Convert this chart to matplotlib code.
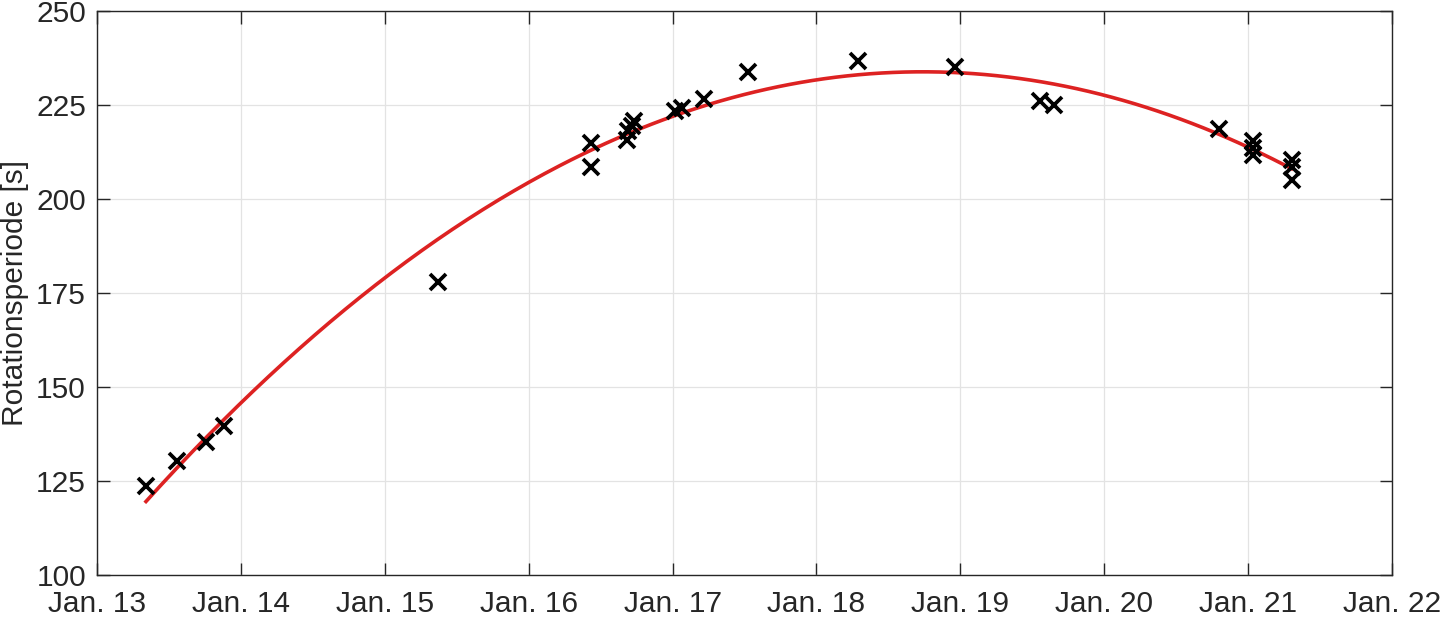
import matplotlib
matplotlib.use("Agg")
import matplotlib.pyplot as plt
import numpy as np

plt.rcParams['font.family'] = ['Liberation Sans', 'DejaVu Sans']

# Measurement times (day of January) and rotation periods [s]
days = [13.34, 13.556, 13.757, 13.883, 15.37, 16.433, 16.433,
        16.68, 16.69, 16.72, 16.73, 17.017, 17.066, 17.218, 17.524,
        18.288, 18.962, 19.553, 19.65, 20.797,
        21.035, 21.035, 21.035, 21.302, 21.302, 21.302]
periods = [123.8, 130.2, 135.5, 139.7, 177.9, 215.0, 208.4,
           215.7, 218.0, 219.3, 220.8, 223.3, 224.3, 226.7, 233.8,
           236.7, 235.2, 226.1, 225.1, 218.5,
           215.5, 213.5, 211.8, 210.5, 208.6, 205.0]

xtick_vals = [13, 14, 15, 16, 17, 18, 19, 20, 21, 22]
xtick_labels = ['Jan. 13', 'Jan. 14', 'Jan. 15', 'Jan. 16', 'Jan. 17',
                'Jan. 18', 'Jan. 19', 'Jan. 20', 'Jan. 21', 'Jan. 22']
ytick_vals = [100, 125, 150, 175, 200, 225, 250]

fig = plt.figure(figsize=(14.4, 6.19), dpi=100)
ax = fig.add_axes([0.0674, 0.0711, 0.8993, 0.9111])

# quadratic fit of the measurements
coef = np.polyfit(days, periods, 2)
xf = np.linspace(min(days), max(days), 300)
ax.plot(xf, np.polyval(coef, xf), color='#DD2222', lw=2.6, zorder=2)

ax.plot(days, periods, 'x', color='black', ms=11, mew=2.7, zorder=3)

ax.set_xlim(13, 22)
ax.set_ylim(100, 250)
ax.set_xticks(xtick_vals)
ax.set_xticklabels(xtick_labels)
ax.set_yticks(ytick_vals)
ax.grid(True, color='#E3E3E3', lw=0.9)
ax.set_axisbelow(True)
ax.tick_params(direction='in', length=9, width=1.0, colors='#262626',
               labelsize=21.5, top=True, right=True,
               labelcolor='#262626')
ax.tick_params(axis='x', pad=11)
ax.tick_params(axis='y', pad=8)
for s in ax.spines.values():
    s.set_color('#262626')
    s.set_linewidth(1.0)
ax.set_ylabel('Rotationsperiode [s]', fontsize=21.5, color='#262626',
              va='center', ha='center')
ax.yaxis.set_label_coords(-0.0633, 0.5)

fig.savefig('out.png', dpi=100)
